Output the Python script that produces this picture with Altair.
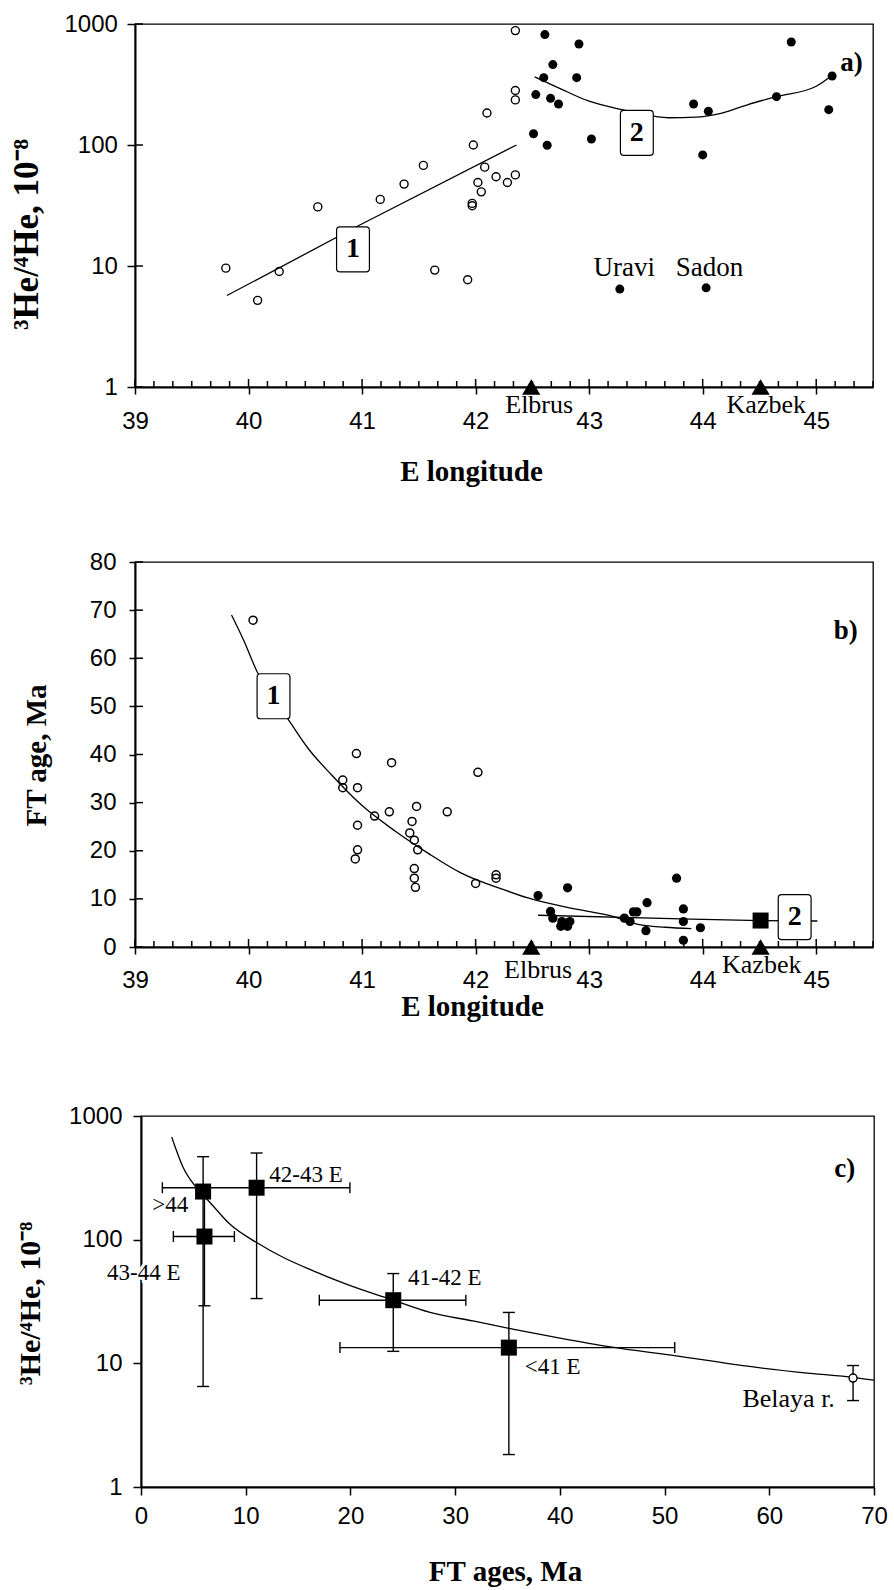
import altair as alt
import pandas as pd

SERIF = "Liberation Serif"
SANS = "Liberation Sans"

# ---------------- panel a) : 3He/4He vs E longitude ----------------
a_open_lon = [39.80, 40.08, 40.27, 40.61, 41.16, 41.37, 41.54, 41.64, 41.93, 41.98,
              41.97, 41.97, 42.02, 42.05, 42.08, 42.10, 42.18, 42.28, 42.35, 42.35,
              42.35, 42.35]
a_open_val = [9.6, 5.2, 9.0, 30.8, 35.5, 47.5, 67.8, 9.25, 7.7, 100,
              32.9, 31.5, 49, 41, 65.6, 184, 54.6, 49, 56.6, 236,
              282, 882]
a_fill_lon = [42.61, 42.91, 42.68, 42.60, 42.89, 42.53, 42.66, 42.73, 42.51, 42.63,
              43.02, 43.27, 43.92, 44.05, 44.00, 44.03, 44.65, 44.78, 45.14, 45.11]
a_fill_val = [817, 683, 462, 360, 360, 261, 243, 218, 124, 99.6,
              112, 6.44, 218, 190, 82.8, 6.6, 251, 710, 372, 196]
a_fit1_lon = [39.81, 40.98, 42.36]
a_fit1_val = [5.7, 21.8, 100]
a_fit2_lon = [42.52, 42.73, 43.00, 43.29, 43.57, 43.70, 43.94, 44.14, 44.40, 44.65, 45.00, 45.14]
a_fit2_val = [365, 297, 230, 196, 173, 168, 170, 181, 216, 251, 306, 377]
a_box_lon = [40.92, 43.42]
a_box_val = [13.7, 126]
box_text = ["1", "2"]
a_site_text = ["Uravi", "Sadon"]
a_site_lon = [43.31, 44.06]
a_site_val = [9.66, 9.66]
volcano_names = ["Elbrus", "Kazbek"]
volcano_lon = [42.49, 44.51]
a_volc_label_lon = [42.56, 44.56]
a_volc_label_val = [0.71, 0.71]
a_tag_lon, a_tag_val = [45.31], [476]

# ---------------- panel b) : FT age vs E longitude ----------------
b_open_lon = [40.04, 40.95, 41.26, 42.02, 40.83, 40.83, 40.96, 41.48, 41.11, 41.24,
              41.75, 41.44, 41.42, 41.46, 40.96, 41.49, 40.96, 40.94, 41.46, 41.46,
              41.47, 42.00, 42.18, 42.18]
b_open_age = [67.9, 40.2, 38.3, 36.3, 34.7, 33.1, 33.1, 29.2, 27.2, 28.1,
              28.1, 26.1, 23.7, 22.2, 25.3, 20.2, 20.2, 18.3, 16.3, 14.3,
              12.4, 13.2, 15.0, 14.3]
b_fill_lon = [42.55, 42.81, 42.66, 42.68, 42.75, 42.81, 42.83, 42.76, 43.31, 43.36,
              43.39, 43.42, 43.51, 43.50, 43.77, 43.83, 43.83, 43.83, 43.98]
b_fill_age = [10.7, 12.3, 7.4, 6.0, 4.3, 4.3, 5.3, 5.3, 6.0, 5.3,
              7.3, 7.3, 9.2, 3.4, 14.3, 7.9, 5.3, 1.4, 4.0]
b_sq_lon, b_sq_age = [44.51], [5.5]
b_fit1_lon = [39.85, 39.96, 40.08, 40.22, 40.35, 40.52, 40.73, 40.99, 41.29, 41.58,
              41.87, 42.26, 42.46, 42.90, 43.20, 43.43, 43.67, 43.90]
b_fit1_age = [69.0, 63.6, 57.0, 52.1, 47.3, 41.4, 35.8, 29.6, 24.1, 19.5,
              15.4, 11.8, 10.2, 7.8, 6.4, 4.7, 4.1, 3.8]
b_fit2_lon = [42.55, 43.90, 44.51, 45.01]
b_fit2_age = [6.6, 5.8, 5.5, 5.4]
b_box_lon = [40.22, 44.81]
b_box_age = [52.1, 6.2]
b_volc_label_lon = [42.55, 44.52]
b_volc_label_age = [-4.8, -3.7]
b_tag_lon, b_tag_age = [45.26], [65.6]

# ---------------- panel c) : 3He/4He vs FT ages ----------------
c_names = [">44", "43-44 E", "42-43 E", "41-42 E", "<41 E"]
c_age = [5.93, 6.06, 11.04, 24.09, 35.13]
c_ratio = [245, 106, 263, 32.4, 13.4]
c_ratio_lo = [6.5, 29.2, 33.4, 12.5, 1.83]
c_ratio_hi = [469, 245, 502, 53.2, 25.8]
c_xbar_ratio = [106, 263, 32.4, 13.4]
c_xbar_lo = [3.09, 2.04, 17.03, 19.0]
c_xbar_hi = [8.92, 19.95, 31.02, 50.97]
belaya_age, belaya_ratio, belaya_lo, belaya_hi = [68.0], [7.6], [5.0], [9.6]
c_fit_age = [2.93, 4.04, 5.15, 6.59, 8.5, 11.04, 13.6, 16.45, 19.6, 24.09,
             27.6, 31.7, 35.5, 40.0, 44.8, 51.1, 57.5, 63.9, 68.0, 70.0]
c_fit_ratio = [677, 382, 272, 200, 133, 94.8, 71.7, 56, 43.7, 32.4,
               25.8, 22.0, 18.9, 16.0, 13.6, 11.5, 9.57, 8.3, 7.7, 7.3]
c_left_text = ["42-43 E", "41-42 E", "<41 E"]
c_left_x = [12.25, 25.5, 36.65]
c_left_y = [334, 48.9, 9.27]
c_mid_text = [">44", "43-44 E"]
c_mid_x = [2.8, 0.26]
c_mid_y = [191, 54.2]
c_belaya_text, c_belaya_x, c_belaya_y = ["Belaya r."], [61.85], [5.15]
c_tag_x, c_tag_y = [67.2], [371]

lon_ticks = [39, 40, 41, 42, 43, 44, 45]
lon_minor = [39 + k / 6 for k in range(1, 40) if k % 6 != 0]
log_ticks = [1, 10, 100, 1000]
age_ticks = [0, 10, 20, 30, 40, 50, 60, 70, 80]
ft_ticks = [0, 10, 20, 30, 40, 50, 60, 70]

A_W, A_H = 738, 363
B_W, B_H = 738, 385
C_W, C_H = 733, 371

ROUND_BOX = ("M-0.58,-1 L0.58,-1 Q0.73,-1 0.73,-0.85 L0.73,0.85 Q0.73,1 0.58,1 "
             "L-0.58,1 Q-0.73,1 -0.73,0.85 L-0.73,-0.85 Q-0.73,-1 -0.58,-1 Z")
LABEL_SIZE = 24


def x_axis(values, title, tick, pad, tx, ty, tsize=28):
    return alt.Axis(values=values, format="d", title=title, grid=False,
                    domain=True, domainColor="black", domainWidth=2,
                    ticks=True, tickColor="black", tickWidth=1.5, tickSize=tick,
                    labelFont=SANS, labelFontSize=LABEL_SIZE, labelColor="black",
                    labelPadding=pad, labelFlush=False, labelOverlap=False,
                    titleFont=SERIF, titleFontSize=tsize, titleFontWeight="bold",
                    titleColor="black", titleAngle=0, titleAlign="center",
                    titleBaseline="alphabetic", titleX=tx, titleY=ty)


def y_axis(values, title, tick, pad, tx, ty, tsize):
    return alt.Axis(values=values, format="d", title=title, grid=False,
                    domain=True, domainColor="black", domainWidth=2,
                    ticks=True, tickColor="black", tickWidth=1.5, tickSize=tick,
                    labelFont=SANS, labelFontSize=LABEL_SIZE, labelColor="black",
                    labelPadding=pad, labelFlush=False, labelOverlap=False,
                    titleFont=SERIF, titleFontSize=tsize, titleFontWeight="bold",
                    titleColor="black", titleAngle=270, titleAlign="center",
                    titleBaseline="alphabetic", titleX=tx, titleY=ty)


def XY(xs, ys):
    return dict(x=alt.X("x:Q", scale=xs), y=alt.Y("y:Q", scale=ys))


def df(x, y, **more):
    d = {"x": x, "y": y}
    d.update(more)
    return pd.DataFrame(d)


def fill_pts(data, xs, ys, size=81):
    return alt.Chart(data).mark_circle(color="black", size=size, opacity=1).encode(**XY(xs, ys))


def line(data, xs, ys, interp="monotone"):
    return alt.Chart(data).mark_line(color="black", strokeWidth=1.3,
                                     interpolate=interp).encode(**XY(xs, ys))


def boxes(data, xs, ys):
    b = alt.Chart(data).mark_point(shape=ROUND_BOX, filled=True, fill="white", stroke="black",
                                   strokeWidth=1.2, size=2025, opacity=1).encode(**XY(xs, ys))
    t = alt.Chart(data).mark_text(font=SERIF, fontSize=28, fontWeight="bold", color="black",
                                  align="center", baseline="middle").encode(**XY(xs, ys), text="t:N")
    return [b, t]


def text(data, xs, ys, size=26, weight="normal", align="center"):
    return alt.Chart(data).mark_text(font=SERIF, fontSize=size, fontWeight=weight, color="black",
                                     align=align, baseline="middle").encode(**XY(xs, ys), text="t:N")


def triangles(data, xs, ys):
    return alt.Chart(data).mark_point(shape="triangle-up", filled=True, color="black",
                                      size=330, opacity=1).encode(**XY(xs, ys))


def inner_x(values, xs, H, length):
    return alt.Chart(pd.DataFrame({"x": values})).mark_rule(color="black", strokeWidth=1.5).encode(
        x=alt.X("x:Q", scale=xs), y=alt.value(H), y2=alt.value(H - length))


def inner_y(values, ys, length):
    return alt.Chart(pd.DataFrame({"y": values})).mark_rule(color="black", strokeWidth=1.5).encode(
        y=alt.Y("y:Q", scale=ys), x=alt.value(0), x2=alt.value(length))


# ---------- panel a ----------
xa = alt.Scale(domain=[39, 45.5], nice=False, zero=False)
ya = alt.Scale(type="log", domain=[1, 1000], nice=False)
a_first = alt.Chart(df(a_open_lon, a_open_val)).mark_point(
    shape="circle", filled=False, color="black", strokeWidth=1.4, size=64, opacity=1).encode(
    x=alt.X("x:Q", scale=xa, axis=x_axis(lon_ticks, "E longitude", 7, 15, 336, 93, 29)),
    y=alt.Y("y:Q", scale=ya, axis=y_axis(log_ticks, "³He/⁴He, 10⁻⁸", 8, 9.6, -98, 210, 35)))
panel_a = alt.layer(
    a_first,
    fill_pts(df(a_fill_lon, a_fill_val), xa, ya),
    line(df(a_fit1_lon, a_fit1_val), xa, ya, "linear"),
    line(df(a_fit2_lon, a_fit2_val), xa, ya),
    *boxes(df(a_box_lon, a_box_val, t=box_text), xa, ya),
    text(df(a_site_lon, a_site_val, t=a_site_text), xa, ya, 27),
    text(df(a_tag_lon, a_tag_val, t=["a)"]), xa, ya, 27, "bold"),
    inner_x(lon_ticks, xa, A_H, 8),
    inner_x(lon_minor, xa, A_H, 6),
    inner_y(log_ticks, ya, 8),
    triangles(df(volcano_lon, [1, 1]), xa, ya),
    text(df(a_volc_label_lon, a_volc_label_val, t=volcano_names), xa, ya, 26),
).properties(width=A_W, height=A_H)

# ---------- panel b ----------
xb = alt.Scale(domain=[39, 45.5], nice=False, zero=False)
yb = alt.Scale(domain=[0, 80], nice=False, zero=False)
b_first = alt.Chart(df(b_open_lon, b_open_age)).mark_point(
    shape="circle", filled=False, color="black", strokeWidth=1.5, size=64, opacity=1).encode(
    x=alt.X("x:Q", scale=xb, axis=x_axis(lon_ticks, "E longitude", 7, 14, 337, 68, 29)),
    y=alt.Y("y:Q", scale=yb, axis=y_axis(age_ticks, "FT age, Ma", 6, 13, -90, 193, 29)))
panel_b = alt.layer(
    b_first,
    fill_pts(df(b_fill_lon, b_fill_age), xb, yb, 85),
    line(df(b_fit1_lon, b_fit1_age), xb, yb),
    line(df(b_fit2_lon, b_fit2_age), xb, yb, "linear"),
    alt.Chart(df(b_sq_lon, b_sq_age)).mark_square(color="black", size=256, opacity=1).encode(**XY(xb, yb)),
    *boxes(df(b_box_lon, b_box_age, t=box_text), xb, yb),
    text(df(b_tag_lon, b_tag_age, t=["b)"]), xb, yb, 27, "bold"),
    inner_x(lon_ticks, xb, B_H, 8),
    inner_x(lon_minor, xb, B_H, 6),
    inner_y(age_ticks, yb, 8),
    triangles(df(volcano_lon, [0, 0]), xb, yb),
    text(df(b_volc_label_lon, b_volc_label_age, t=volcano_names), xb, yb, 26),
).properties(width=B_W, height=B_H)

# ---------- panel c ----------
xc = alt.Scale(domain=[0, 70], nice=False, zero=False)
yc = alt.Scale(type="log", domain=[1, 1000], nice=False)
c_first = alt.Chart(df(c_fit_age, c_fit_ratio)).mark_line(
    color="black", strokeWidth=1.3, interpolate="monotone").encode(
    x=alt.X("x:Q", scale=xc, axis=x_axis(ft_ticks, "FT ages, Ma", 8, 9, 364, 93, 29)),
    y=alt.Y("y:Q", scale=yc, axis=y_axis(log_ticks, "³He/⁴He, 10⁻⁸", 8, 11, -102, 187, 30)))

v_x = c_age + belaya_age
v_lo = c_ratio_lo + belaya_lo
v_hi = c_ratio_hi + belaya_hi
vbars = alt.Chart(pd.DataFrame({"x": v_x, "y": v_lo, "y2": v_hi})).mark_rule(
    color="black", strokeWidth=1.4).encode(x=alt.X("x:Q", scale=xc), y=alt.Y("y:Q", scale=yc), y2="y2:Q")
vcaps = alt.Chart(df(v_x + v_x, v_lo + v_hi)).mark_tick(
    orient="horizontal", size=12, thickness=1.4, color="black", opacity=1).encode(**XY(xc, yc))
hbars = alt.Chart(pd.DataFrame({"x": c_xbar_lo, "x2": c_xbar_hi, "y": c_xbar_ratio})).mark_rule(
    color="black", strokeWidth=1.4).encode(x=alt.X("x:Q", scale=xc), x2="x2:Q", y=alt.Y("y:Q", scale=yc))
hcaps = alt.Chart(df(c_xbar_lo + c_xbar_hi, c_xbar_ratio + c_xbar_ratio)).mark_tick(
    orient="vertical", size=11, thickness=1.4, color="black", opacity=1).encode(**XY(xc, yc))
halo = alt.Chart(df(c_mid_x, c_mid_y, t=c_mid_text)).mark_text(
    font=SERIF, fontSize=23, color="white", stroke="white", strokeWidth=6,
    align="center", baseline="middle").encode(**XY(xc, yc), text="t:N")

panel_c = alt.layer(
    c_first, vbars, vcaps, hbars, hcaps,
    alt.Chart(df(c_age, c_ratio)).mark_square(color="black", size=256, opacity=1).encode(**XY(xc, yc)),
    alt.Chart(df(belaya_age, belaya_ratio)).mark_point(
        shape="circle", filled=True, fill="white", stroke="black", strokeWidth=1.4,
        size=64, opacity=1).encode(**XY(xc, yc)),
    halo,
    text(df(c_mid_x, c_mid_y, t=c_mid_text), xc, yc, 23),
    text(df(c_left_x, c_left_y, t=c_left_text), xc, yc, 23, align="left"),
    text(df(c_belaya_x, c_belaya_y, t=c_belaya_text), xc, yc, 26),
    text(df(c_tag_x, c_tag_y, t=["c)"]), xc, yc, 27, "bold"),
).properties(width=C_W, height=C_H)

spacer = alt.Chart(pd.DataFrame({"x": [0]})).mark_point(opacity=0).properties(
    width=6, height=C_H, view=alt.ViewBackground(strokeOpacity=0))
row_c = alt.hconcat(spacer, panel_c, spacing=0, bounds="flush")
lower = alt.vconcat(panel_b, row_c, spacing=169, bounds="flush")
chart = alt.vconcat(panel_a, lower, spacing=175, bounds="flush").configure_view(
    stroke="black", strokeWidth=1.3).properties(
    padding={"left": 8, "top": 11, "right": 5, "bottom": 0})

chart.save("out.html", embed_options={"renderer": "svg", "actions": False})
